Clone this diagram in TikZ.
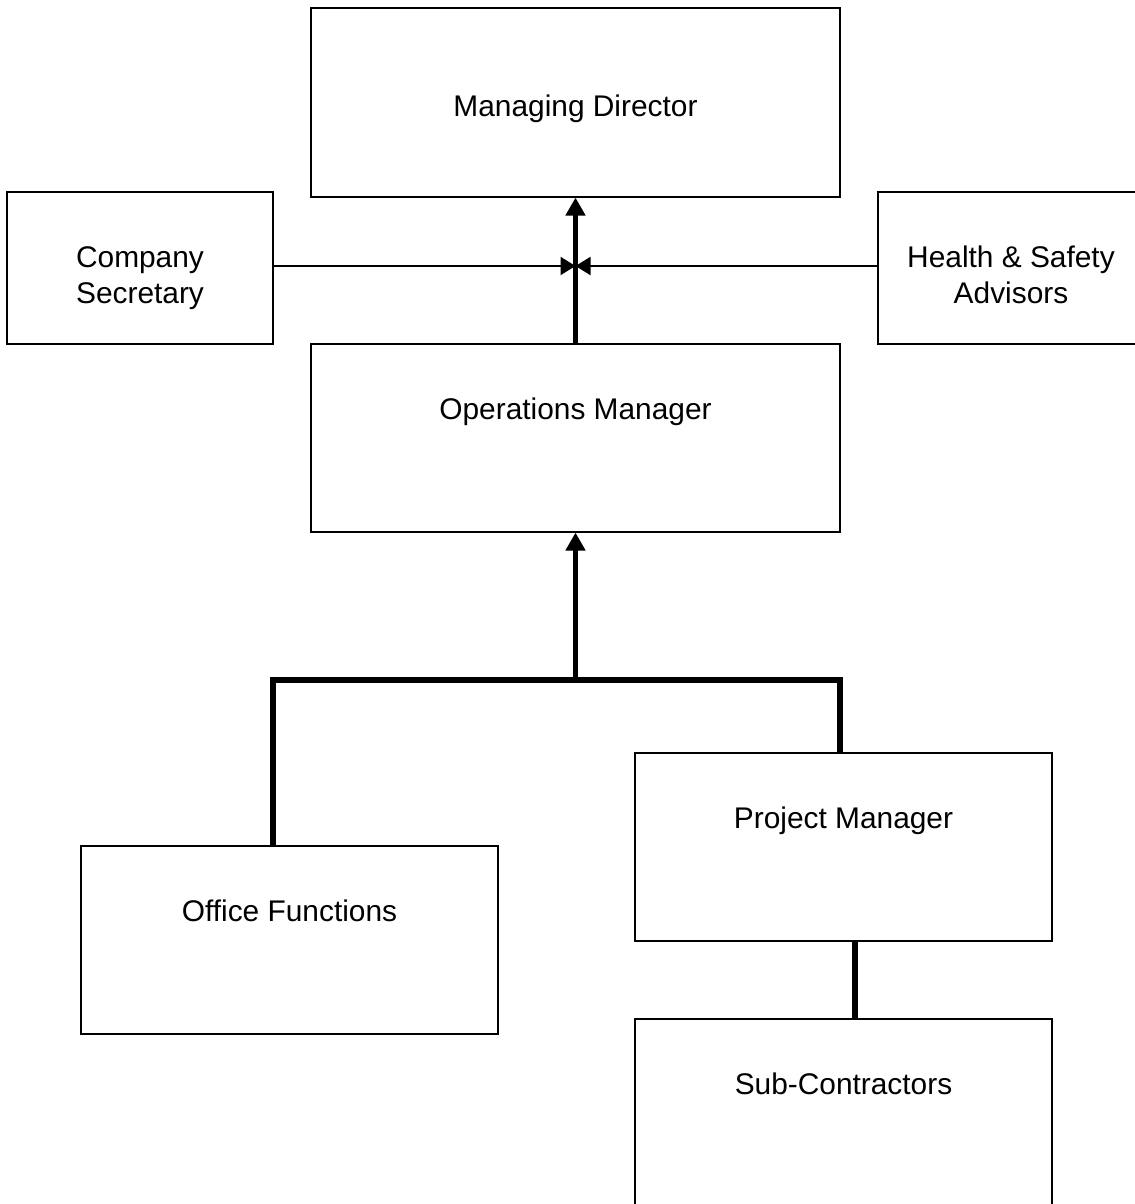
\documentclass[tikz,border=0pt]{standalone}
\usepackage{fontspec}
\setmainfont{Liberation Sans}
\usetikzlibrary{arrows.meta}

\begin{document}
\begin{tikzpicture}[x=0.02cm,y=-0.02cm,
	box/.style={draw,line width=0.9pt,inner sep=0pt,font=\fontsize{17}{20.5}\selectfont},
	obox/.style={box,text height=1.52cm,text depth=2.24cm},
	side/.style={box,minimum width=5.32cm,text height=2.24cm,text depth=0.8cm,align=center},
	link/.style={line width=3pt},
	uptip/.style={-{Triangle[width=0.38cm,length=0.36cm]}},
	feed/.style={line width=1.1pt,-{Triangle[width=0.36cm,length=0.3cm]}}]
	\useasboundingbox (0,0) rectangle (1134,1204);

	% Obere Ebene
	\node[box,minimum width=10.58cm,text height=2.18cm,text depth=1.6cm,anchor=north] (md) at (575.5,7) {Managing Director};
	\node[obox,minimum width=10.58cm,anchor=north] (om) at (575.5,343) {Operations Manager};

	% Seitliche Stellen
	\node[side,anchor=north] (cs) at (140,191) {Company\\Secretary};
	\node[side,anchor=north] (hs) at (1011,191) {Health \& Safety\\Advisors};

	% Untere Ebene
	\node[obox,minimum width=8.34cm,anchor=north] (of) at (289.5,845) {Office Functions};
	\node[obox,minimum width=8.34cm,anchor=north] (pm) at (843.5,752) {Project Manager};
	\node[obox,minimum width=8.34cm,anchor=north] (sc) at (843.5,1018) {Sub-Contractors};

	% Verbindungen
	\coordinate (hub) at (575.5,266);
	\draw[link,uptip] (om.north) -- (md.south);
	\draw[feed] (cs.east |- hub) -- (hub);
	\draw[feed] (hs.west |- hub) -- (hub);

	\coordinate (mid) at (575.5,680);
	\coordinate (lft) at (273,680);
	\coordinate (rgt) at (840,680);
	\draw[link,uptip] (mid) -- (om.south);
	\draw[link] (lft |- of.north) -- (lft) -- (rgt) -- (rgt |- pm.north);
	\draw[link] ([xshift=0.23cm]pm.south) -- ([xshift=0.23cm]sc.north);
\end{tikzpicture}
\end{document}
